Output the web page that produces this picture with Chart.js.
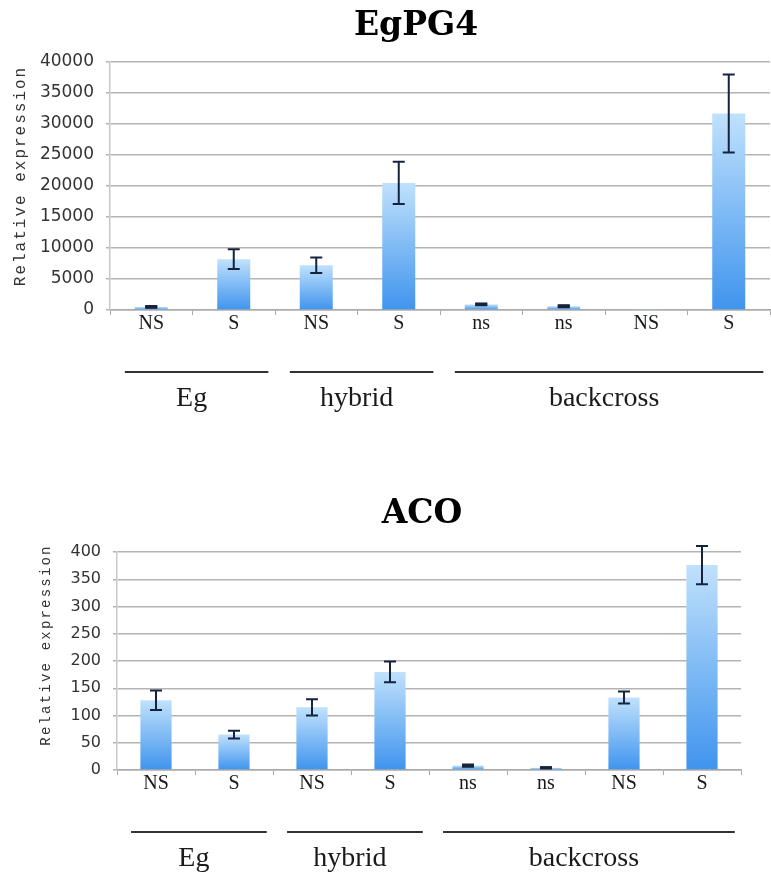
<!DOCTYPE html>
<html>
<head>
<meta charset="utf-8">
<script src="https://cdn.jsdelivr.net/npm/chart.js@4.4.0/dist/chart.umd.min.js"></script>
<style>
  html, body { margin: 0; padding: 0; background: #fff; }
  body { width: 771px; height: 876px; position: relative; overflow: hidden; }
  canvas { position: absolute; left: 0; }
  #egpg4Chart { top: 0; }
  #acoChart { top: 440px; }
</style>
</head>
<body>
<canvas id="egpg4Chart" width="771" height="430"></canvas>
<canvas id="acoChart" width="771" height="436"></canvas>
<script>
// categories along the x axis (same for both panels)
const categories = ['NS', 'S', 'NS', 'S', 'ns', 'ns', 'NS', 'S'];

// sample groups drawn under the axis
const groupNames = ['Eg', 'hybrid', 'backcross'];
const groupFirst = [0, 2, 4];
const groupLast = [1, 3, 7];

// EgPG4 panel
const egpg4Values = [500, 8200, 7200, 20500, 900, 600, 100, 31700];
const egpg4Errors = [150, 1600, 1250, 3400, 150, 150, 0, 6300];
const egpg4Ticks = [0, 5000, 10000, 15000, 20000, 25000, 30000, 35000, 40000];

// ACO panel
const acoValues = [128, 65, 115, 180, 8, 4, 133, 376];
const acoErrors = [18, 7, 15, 19, 2, 1, 11, 35];
const acoTicks = [0, 50, 100, 150, 200, 250, 300, 350, 400];

const yTitleText = 'Relative expression';

function barFill(values) {
    return ctx => {
        const chart = ctx.chart;
        const y = chart.scales.y;
        if (!y || ctx.dataIndex == null) return '#7ab8f5';
        const top = y.getPixelForValue(values[ctx.dataIndex]);
        const base = y.getPixelForValue(0);
        if (!isFinite(top) || !isFinite(base) || Math.abs(base - top) < 1) return '#a9d3f9';
        const g = chart.ctx.createLinearGradient(0, top, 0, base);
        g.addColorStop(0, '#c0e1fc');
        g.addColorStop(1, '#3f94ee');
        return g;
    };
}

// error bars on top of each bar
const errorBars = {
    id: 'errorBars',
    afterDatasetsDraw(chart, args, opts) {
        const meta = chart.getDatasetMeta(0);
        const y = chart.scales.y;
        const values = chart.data.datasets[0].data;
        const c = chart.ctx;
        c.save();
        c.strokeStyle = '#16233f';
        c.lineWidth = 2;
        opts.errors.forEach((e, i) => {
            if (!e) return;
            const bar = meta.data[i];
            const hi = y.getPixelForValue(values[i] + e);
            const lo = y.getPixelForValue(values[i] - e);
            c.beginPath();
            c.moveTo(bar.x, hi); c.lineTo(bar.x, lo);
            c.moveTo(bar.x - 6, hi); c.lineTo(bar.x + 6, hi);
            c.moveTo(bar.x - 6, lo); c.lineTo(bar.x + 6, lo);
            c.stroke();
            if (Math.abs(lo - hi) < 3) {
                c.lineWidth = 3;
                c.beginPath();
                c.moveTo(bar.x - 6, (hi + lo) / 2); c.lineTo(bar.x + 6, (hi + lo) / 2);
                c.stroke();
                c.lineWidth = 2;
            }
        });
        c.restore();
    }
};

// group lines + labels under the x axis, panel title, rotated y title
const decorations = {
    id: 'decorations',
    afterDraw(chart, args, opts) {
        const c = chart.ctx;
        const x = chart.scales.x;
        const area = chart.chartArea;
        const w = x.width / categories.length;

        c.save();
        c.strokeStyle = '#333';
        c.lineWidth = 2;
        c.fillStyle = '#1a1a1a';
        c.font = '28px "Liberation Serif", "Times New Roman", serif';
        c.textAlign = 'center';
        c.textBaseline = 'middle';
        groupNames.forEach((name, g) => {
            const x0 = x.getPixelForValue(groupFirst[g]) - 0.32 * w;
            const x1 = x.getPixelForValue(groupLast[g]) + 0.42 * w;
            c.beginPath();
            c.moveTo(x0, area.bottom + 62);
            c.lineTo(x1, area.bottom + 62);
            c.stroke();
            c.fillText(name, (x0 + x1) / 2 - 5, area.bottom + 89);
        });

        // panel title
        c.fillStyle = '#000';
        c.font = 'bold 33px "DejaVu Serif", serif';
        c.fillText(opts.title, opts.titleX, opts.titleY);

        // y axis title
        c.translate(opts.yTitleX, (area.top + area.bottom) / 2 + opts.yTitleDy);
        c.rotate(-Math.PI / 2);
        c.fillStyle = '#333';
        c.font = opts.yTitleSize + 'px "Courier New", "Liberation Mono", monospace';
        c.letterSpacing = opts.yTitleSpacing + 'px';
        c.fillText(yTitleText, 0, 0);
        c.restore();
    }
};

function makeChart(id, values, errors, ticks, cfg) {
    return new Chart(document.getElementById(id), {
        type: 'bar',
        data: {
            labels: categories,
            datasets: [{
                data: values,
                backgroundColor: barFill(values),
                borderWidth: 0,
                barPercentage: 0.4,
                categoryPercentage: 1
            }]
        },
        options: {
            responsive: false,
            animation: false,
            layout: { padding: cfg.padding },
            plugins: {
                legend: { display: false },
                tooltip: { enabled: false },
                errorBars: { errors: errors },
                decorations: cfg.deco
            },
            scales: {
                x: {
                    offset: true,
                    afterFit: s => { s.height = 20; },
                    grid: {
                        offset: true,
                        drawOnChartArea: false,
                        tickLength: 5,
                        color: '#aaaaaa'
                    },
                    border: { color: '#aaaaaa', width: 1.5 },
                    ticks: {
                        padding: -3,
                        color: '#1a1a1a',
                        font: { family: '"Liberation Serif", "Times New Roman", serif', size: 20 }
                    }
                },
                y: {
                    min: ticks[0],
                    max: ticks[ticks.length - 1],
                    afterBuildTicks: s => { s.ticks = ticks.map(v => ({ value: v })); },
                    afterFit: s => { s.width = cfg.yWidth; },
                    grid: { color: '#b3b3b3', lineWidth: 1.5, tickLength: 4 },
                    border: { color: '#c8c8c8', width: 1.5 },
                    ticks: {
                        padding: 12,
                        color: '#333',
                        callback: v => String(v),
                        font: { family: '"DejaVu Sans", sans-serif', size: cfg.tickSize }
                    }
                }
            }
        },
        plugins: [errorBars, decorations]
    });
}

makeChart('egpg4Chart', egpg4Values, egpg4Errors, egpg4Ticks, {
    padding: { top: 62, right: 1, left: 0, bottom: 100 },
    yWidth: 110,
    tickSize: 17,
    deco: { title: 'EgPG4', titleX: 416, titleY: 26, yTitleX: 21, yTitleDy: -10, yTitleSize: 16, yTitleSpacing: 2 }
});

makeChart('acoChart', acoValues, acoErrors, acoTicks, {
    padding: { top: 112, right: 30, left: 0, bottom: 86 },
    yWidth: 117,
    tickSize: 16,
    deco: { title: 'ACO', titleX: 422, titleY: 74, yTitleX: 46, yTitleDy: -16, yTitleSize: 14, yTitleSpacing: 2.2 }
});
</script>
</body>
</html>
